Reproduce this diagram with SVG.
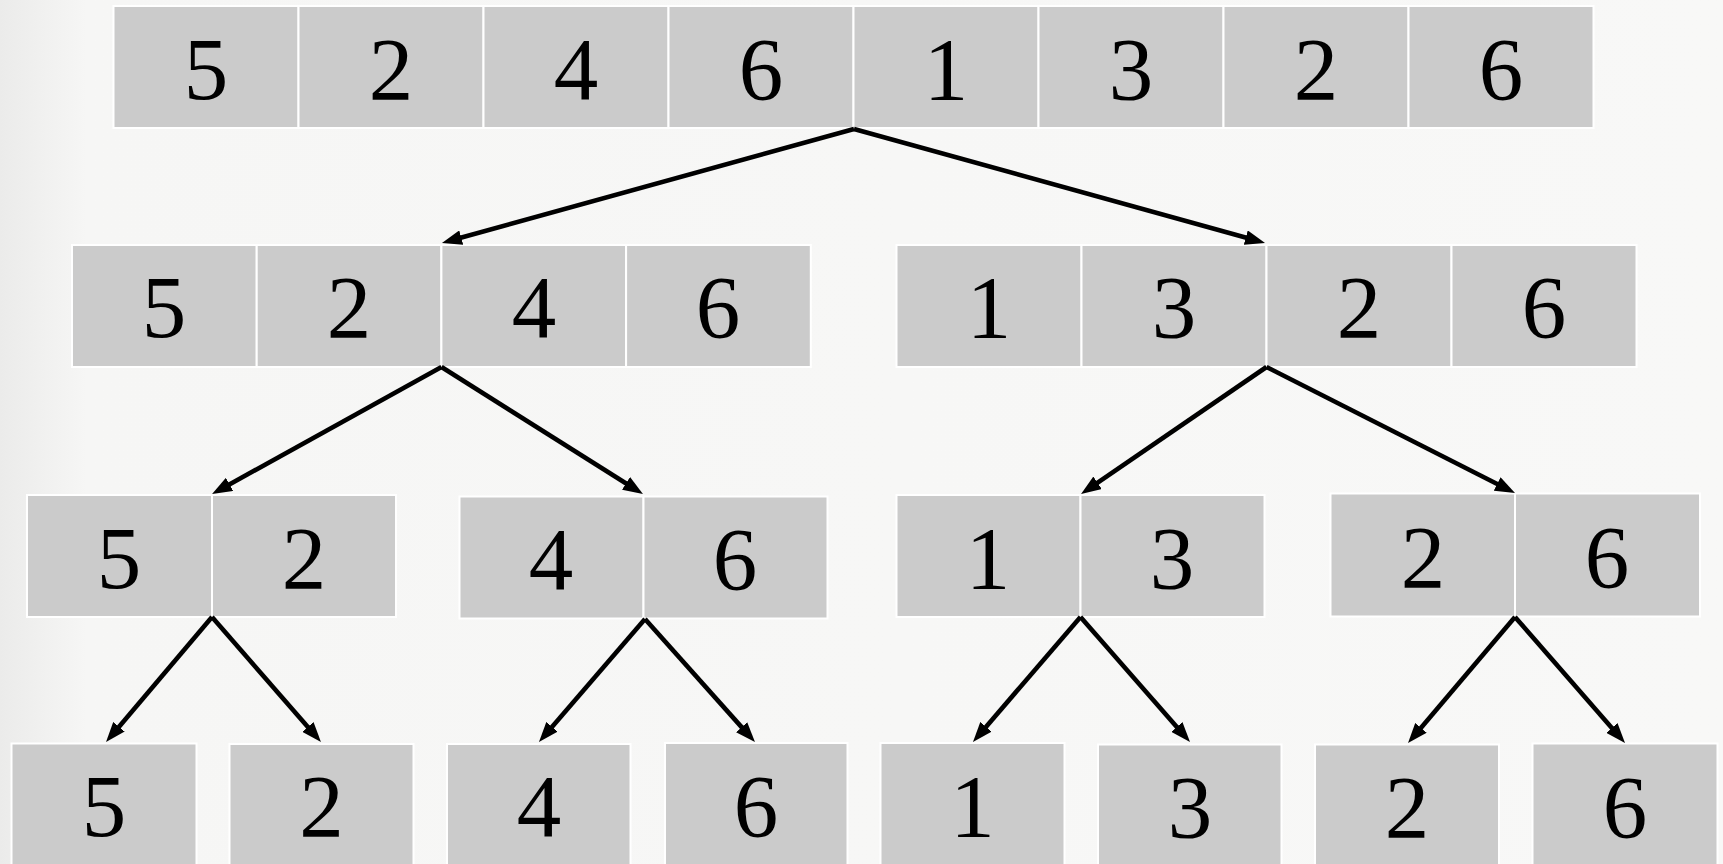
<svg xmlns="http://www.w3.org/2000/svg" width="1723" height="864" viewBox="0 0 1723 864">
<defs>
<linearGradient id="bg" x1="0" y1="0" x2="1" y2="0">
<stop offset="0" stop-color="#ebebea"/>
<stop offset="0.05" stop-color="#f6f6f5"/>
<stop offset="1" stop-color="#f8f8f7"/>
</linearGradient>
<marker id="ah" markerUnits="userSpaceOnUse" markerWidth="20" markerHeight="15" refX="10" refY="7.5" orient="auto">
<path d="M0,0 L20,7.5 L0,15 z" fill="#000"/>
</marker>
<style>
.c{fill:#cbcbcb;stroke:#ffffff;stroke-width:2}
.t{font-family:"Liberation Serif","DejaVu Serif",serif;font-size:89px;fill:#000;text-anchor:middle}
.e{fill:none;stroke:#000;stroke-width:4.6;marker-end:url(#ah)}
</style>
</defs>
<rect x="0" y="0" width="1723" height="864" fill="url(#bg)"/>

<g id="n-root">
<rect class="c" x="113.5" y="6" width="185" height="122"/>
<rect class="c" x="298.5" y="6" width="185" height="122"/>
<rect class="c" x="483.5" y="6" width="185" height="122"/>
<rect class="c" x="668.5" y="6" width="185" height="122"/>
<rect class="c" x="853.5" y="6" width="185" height="122"/>
<rect class="c" x="1038.5" y="6" width="185" height="122"/>
<rect class="c" x="1223.5" y="6" width="185" height="122"/>
<rect class="c" x="1408.5" y="6" width="185" height="122"/>
<text class="t" x="206" y="99">5</text>
<text class="t" x="391" y="99">2</text>
<text class="t" x="576" y="99">4</text>
<text class="t" x="761" y="99">6</text>
<text class="t" x="946" y="99">1</text>
<text class="t" x="1131" y="99">3</text>
<text class="t" x="1316" y="99">2</text>
<text class="t" x="1501" y="99">6</text>
</g>

<g id="n-l">
<rect class="c" x="72" y="245" width="184.7" height="122"/>
<rect class="c" x="256.7" y="245" width="184.7" height="122"/>
<rect class="c" x="441.4" y="245" width="184.7" height="122"/>
<rect class="c" x="626.1" y="245" width="184.7" height="122"/>
<text class="t" x="164" y="337">5</text>
<text class="t" x="349" y="337">2</text>
<text class="t" x="534" y="337">4</text>
<text class="t" x="718" y="337">6</text>
</g>

<g id="n-r">
<rect class="c" x="896.5" y="245" width="185" height="122"/>
<rect class="c" x="1081.5" y="245" width="185" height="122"/>
<rect class="c" x="1266.5" y="245" width="185" height="122"/>
<rect class="c" x="1451.5" y="245" width="185" height="122"/>
<text class="t" x="989" y="337">1</text>
<text class="t" x="1174" y="337">3</text>
<text class="t" x="1359" y="337">2</text>
<text class="t" x="1544" y="337">6</text>
</g>

<g id="n-ll">
<rect class="c" x="27" y="495" width="185" height="122"/>
<rect class="c" x="212" y="495" width="184" height="122"/>
<text class="t" x="119" y="588">5</text>
<text class="t" x="304" y="588">2</text>
</g>
<g id="n-lr">
<rect class="c" x="459.5" y="496.5" width="184" height="122"/>
<rect class="c" x="643.5" y="496.5" width="184" height="122"/>
<text class="t" x="551" y="589">4</text>
<text class="t" x="735" y="589">6</text>
</g>
<g id="n-rl">
<rect class="c" x="896.5" y="495" width="184" height="122"/>
<rect class="c" x="1080.5" y="495" width="184" height="122"/>
<text class="t" x="988" y="588">1</text>
<text class="t" x="1172" y="588">3</text>
</g>
<g id="n-rr">
<rect class="c" x="1330.5" y="493.5" width="184.5" height="123"/>
<rect class="c" x="1515" y="493.5" width="185" height="123"/>
<text class="t" x="1423" y="587">2</text>
<text class="t" x="1607" y="587">6</text>
</g>

<g id="n-leaf5"><rect class="c" x="11.5" y="743.5" width="185" height="130"/><text class="t" x="104" y="836">5</text></g>
<g id="n-leaf2a"><rect class="c" x="229.5" y="744" width="184" height="130"/><text class="t" x="321.5" y="836">2</text></g>
<g id="n-leaf4"><rect class="c" x="447" y="744" width="183.5" height="130"/><text class="t" x="539" y="836">4</text></g>
<g id="n-leaf6a"><rect class="c" x="665" y="743" width="182.5" height="130"/><text class="t" x="756" y="836">6</text></g>
<g id="n-leaf1"><rect class="c" x="880.5" y="743" width="184" height="130"/><text class="t" x="972.5" y="836">1</text></g>
<g id="n-leaf3"><rect class="c" x="1098" y="744.5" width="183.5" height="130"/><text class="t" x="1190" y="837">3</text></g>
<g id="n-leaf2b"><rect class="c" x="1315" y="744.5" width="184" height="130"/><text class="t" x="1407" y="837">2</text></g>
<g id="n-leaf6b"><rect class="c" x="1532.5" y="743.5" width="185" height="130"/><text class="t" x="1625" y="837">6</text></g>

<g id="connectors">
<line class="e" x1="854" y1="129" x2="451.6" y2="240.3"/>
<line class="e" x1="854" y1="129" x2="1255.4" y2="240.3"/>
<line class="e" x1="441.5" y1="367" x2="220.8" y2="489.2"/>
<line class="e" x1="441.5" y1="367" x2="634.5" y2="488.7"/>
<line class="e" x1="1266.5" y1="367" x2="1089.3" y2="488.4"/>
<line class="e" x1="1266.5" y1="367" x2="1506.1" y2="488.5"/>
<line class="e" x1="212" y1="617" x2="112.5" y2="734.4"/>
<line class="e" x1="212" y1="617" x2="314.4" y2="734.5"/>
<line class="e" x1="645" y1="619" x2="545.5" y2="734.4"/>
<line class="e" x1="645" y1="619" x2="748.3" y2="734.6"/>
<line class="e" x1="1080.5" y1="617" x2="979.5" y2="734.4"/>
<line class="e" x1="1080.5" y1="617" x2="1183.4" y2="734.5"/>
<line class="e" x1="1515" y1="617" x2="1414.5" y2="735.4"/>
<line class="e" x1="1515" y1="617" x2="1618.4" y2="735.5"/>
</g>
</svg>
